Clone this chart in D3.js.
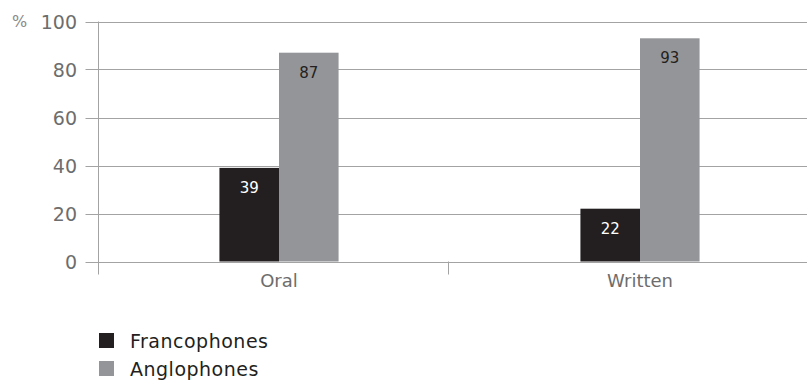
<!DOCTYPE html>
<html>
<head>
<meta charset="utf-8">
<script src="https://cdn.jsdelivr.net/npm/d3@7"></script>
<style>
  body { margin: 0; background: #fff; }
  text { font-family: "DejaVu Sans", sans-serif; }
</style>
</head>
<body>
<svg id="main-svg" width="807" height="386"></svg>
<script>
// data
const categories = ["Oral", "Written"];
const seriesNames = ["Francophones", "Anglophones"];
const francophones = [39, 22];
const anglophones = [87, 93];
const yTicks = [0, 20, 40, 60, 80, 100];

const colors = ["#231f20", "#939598"];
const labelColors = ["#ffffff", "#231f20"];

const svg = d3.select("#main-svg");

// plot area
const plotLeft = 98.5, plotRight = 820.5, plotTop = 21.5, plotBottom = 261.5;

const y = d3.scaleLinear().domain([0, 100]).range([plotBottom, plotTop]);
const x = d3.scaleBand().domain(categories).range([plotLeft, plotRight]);
const xSub = d3.scaleBand().domain(seriesNames)
    .range([0, x.bandwidth()]).paddingInner(0).paddingOuter(2.03);

// gridlines + left ticks
svg.append("g").selectAll("line")
    .data(yTicks)
    .enter()
    .append("line")
    .attr("x1", plotLeft - 13)
    .attr("x2", 807)
    .attr("y1", d => Math.round(y(d)) + 0.5)
    .attr("y2", d => Math.round(y(d)) + 0.5)
    .attr("stroke", "#a3a3a3")
    .attr("stroke-width", 1);

// y tick labels
svg.append("g").selectAll("text")
    .data(yTicks)
    .enter()
    .append("text")
    .attr("x", 77)
    .attr("y", d => y(d) + 7)
    .attr("text-anchor", "end")
    .attr("font-size", "19px")
    .attr("fill", "#6d6d6d")
    .text(d => d);

svg.append("text")
    .attr("x", 12)
    .attr("y", 27)
    .attr("font-size", "16px")
    .attr("fill", "#8a8a8a")
    .text("%");

// bars
const rows = categories.map((c, i) => ({ cat: c, values: [francophones[i], anglophones[i]] }));
const groups = svg.append("g").selectAll("g")
    .data(rows)
    .enter()
    .append("g")
    .attr("transform", d => `translate(${x(d.cat)},0)`);

groups.selectAll("rect")
    .data(d => d.values.map((v, j) => ({ name: seriesNames[j], v, j })))
    .enter()
    .append("rect")
    .attr("x", d => xSub(d.name))
    .attr("width", xSub.bandwidth())
    .attr("y", d => y(d.v))
    .attr("height", d => plotBottom - y(d.v))
    .attr("fill", d => colors[d.j]);

groups.selectAll("text")
    .data(d => d.values.map((v, j) => ({ name: seriesNames[j], v, j })))
    .enter()
    .append("text")
    .attr("x", d => xSub(d.name) + xSub.bandwidth() / 2)
    .attr("y", d => y(d.v) + 25)
    .attr("text-anchor", "middle")
    .attr("font-size", "15px")
    .attr("fill", d => labelColors[d.j])
    .text(d => d.v);

// y axis line
svg.append("line")
    .attr("x1", plotLeft).attr("x2", plotLeft)
    .attr("y1", plotTop).attr("y2", plotBottom + 13)
    .attr("stroke", "#a3a3a3");

// category divider tick
const divider = 448.5;
svg.append("line")
    .attr("x1", divider).attr("x2", divider)
    .attr("y1", plotBottom).attr("y2", plotBottom + 13)
    .attr("stroke", "#a3a3a3");

// category labels
svg.append("g").selectAll("text")
    .data(categories)
    .enter()
    .append("text")
    .attr("x", d => x(d) + xSub("Anglophones"))
    .attr("y", plotBottom + 25.5)
    .attr("text-anchor", "middle")
    .attr("font-size", "18px")
    .attr("fill", "#6d6d6d")
    .text(d => d);

// legend
const legend = svg.append("g").attr("transform", "translate(99,333)");
const items = legend.selectAll("g")
    .data(seriesNames)
    .enter()
    .append("g")
    .attr("transform", (d, i) => `translate(0,${i * 28})`);

items.append("rect")
    .attr("width", 15)
    .attr("height", 15)
    .attr("fill", (d, i) => colors[i]);

items.append("text")
    .attr("x", 31)
    .attr("y", 15)
    .attr("font-size", "19px")
    .attr("letter-spacing", "0.5px")
    .attr("fill", "#231f20")
    .text(d => d);
</script>
</body>
</html>
